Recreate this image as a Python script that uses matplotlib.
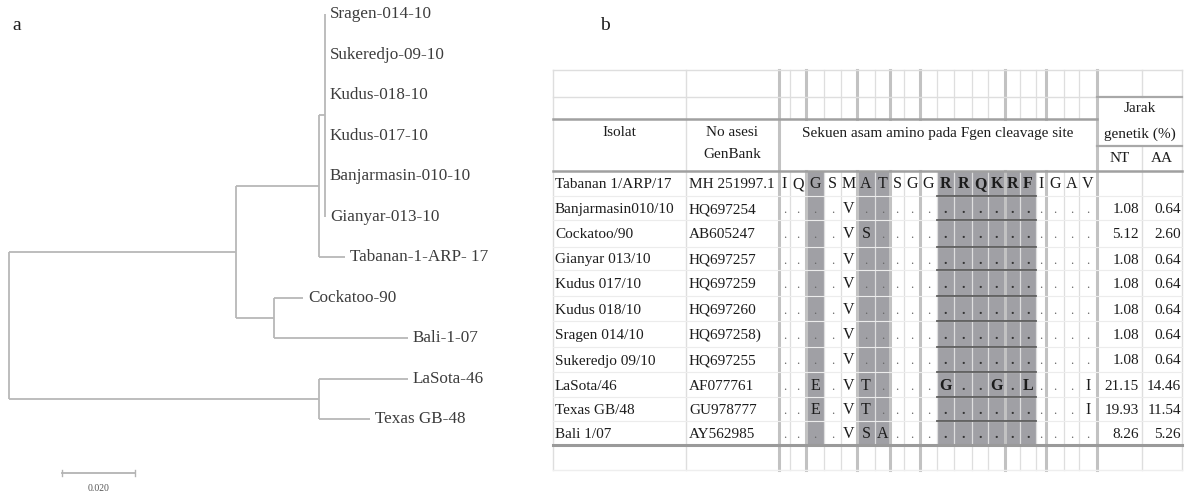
import matplotlib

matplotlib.use("Agg")

import matplotlib.pyplot as plt

plt.rcParams["font.family"] = ["Liberation Serif", "DejaVu Serif"]

# ---- panel a: neighbour-joining tree (branch lengths in substitutions/site)
EDGE_PARENT = ["root", "root", "A", "A", "B", "B", "C", "C", "C", "C", "C", "C",
               "D", "D", "E", "E"]
EDGE_CHILD = ["A", "E", "B", "D", "C", "Tabanan-1-ARP- 17",
              "Sragen-014-10", "Sukeredjo-09-10", "Kudus-018-10", "Kudus-017-10",
              "Banjarmasin-010-10", "Gianyar-013-10",
              "Cockatoo-90", "Bali-1-07", "LaSota-46", "Texas GB-48"]
EDGE_LENGTH = [0.0622, 0.0849, 0.0227, 0.0104, 0.0016, 0.0071,
               0.0, 0.0, 0.0, 0.0, 0.0, 0.0,
               0.0079, 0.0367, 0.0244, 0.0140]
LEAF_ORDER = ["Sragen-014-10", "Sukeredjo-09-10", "Kudus-018-10", "Kudus-017-10",
              "Banjarmasin-010-10", "Gianyar-013-10", "Tabanan-1-ARP- 17",
              "Cockatoo-90", "Bali-1-07", "LaSota-46", "Texas GB-48"]
SCALE_BAR = 0.020

# ---- panel b: table
ISOLATES = ["Tabanan 1/ARP/17", "Banjarmasin010/10", "Cockatoo/90", "Gianyar 013/10",
            "Kudus 017/10", "Kudus 018/10", "Sragen 014/10", "Sukeredjo 09/10",
            "LaSota/46", "Texas GB/48", "Bali 1/07"]
ACCESSIONS = ["MH 251997.1", "HQ697254", "AB605247", "HQ697257", "HQ697259",
              "HQ697260", "HQ697258)", "HQ697255", "AF077761", "GU978777", "AY562985"]
SEQUENCES = ["IQGSMATSGGRRQKRFIGAV",
             "....V...............",
             "....VS..............",
             "....V...............",
             "....V...............",
             "....V...............",
             "....V...............",
             "....V...............",
             "..E.VT....G..G.L...I",
             "..E.VT.............I",
             "....VSA............."]
NT = ["", "1.08", "5.12", "1.08", "1.08", "1.08", "1.08", "1.08", "21.15", "19.93", "8.26"]
AA = ["", "0.64", "2.60", "0.64", "0.64", "0.64", "0.64", "0.64", "14.46", "11.54", "5.26"]
SHADED_COLS = [2, 5, 6, 10, 11, 12, 13, 14, 15]
CLEAVAGE_COLS = [10, 11, 12, 13, 14, 15]

# layout (pixels of the 1189x495 canvas)
W, H = 1189, 495
TAB_LEFT, TAB_RIGHT = 553, 1182
COL_ACC, COL_JARAK, COL_AA = 686, 1097, 1142
SEQ_EDGES = [779, 790, 806, 824, 841, 857, 875, 890, 904, 920, 937, 954, 972,
             988, 1005, 1020, 1036, 1046, 1064, 1079, 1097]
THICK_EDGES = [779, 806, 857, 890, 920, 1005, 1046, 1097]
ROW_EDGES = [171, 196, 220, 247, 270, 296, 321, 347, 372, 397, 421, 445]
TOP, TOP2, HEAD, JARAK_MID, BOTTOM = 70, 97, 119, 146, 470

TEXT = "#1c1c1c"
GRID_LIGHT = "#dedede"
GRID_THICK = "#c2c2c2"
SHADE = "#a0a0a5"

fig = plt.figure(figsize=(W / 100, H / 100), dpi=100)

# ------------------------------------------------------------------ tree
px_per_unit = 3650.0
ax_t = fig.add_axes([0, 0, 547 / W, 1])
ax_t.set_xlim(-9 / px_per_unit, (547 - 9) / px_per_unit)
ax_t.set_ylim((H - 14) / 40.5, -14 / 40.5)
ax_t.axis("off")

xpos = {"root": 0.0}
children = {}
for p, c, L in zip(EDGE_PARENT, EDGE_CHILD, EDGE_LENGTH):
    children.setdefault(p, []).append(c)
for p, c, L in zip(EDGE_PARENT, EDGE_CHILD, EDGE_LENGTH):
    xpos[c] = xpos[p] + L

ypos = {name: i for i, name in enumerate(LEAF_ORDER)}


def node_y(n):
    if n in ypos:
        return ypos[n]
    ys = [node_y(c) for c in children[n]]
    ypos[n] = (min(ys) + max(ys)) / 2
    return ypos[n]


node_y("root")
tree_kw = dict(color="#b8b8b8", linewidth=1.3, solid_capstyle="butt")
for n, kids in children.items():
    ys = [ypos[c] for c in kids]
    ax_t.plot([xpos[n], xpos[n]], [min(ys), max(ys)], **tree_kw)
    for c in kids:
        ax_t.plot([xpos[n], xpos[c]], [ypos[c], ypos[c]], **tree_kw)

for leaf in LEAF_ORDER:
    ax_t.text(xpos[leaf] + 0.0014, ypos[leaf], leaf, fontsize=12.3, color="#3c3c3c",
              va="center", ha="left")

# scale bar
sb_x0 = 53 / px_per_unit
sb_y = (473 - 14) / 40.5
ax_t.plot([sb_x0, sb_x0 + SCALE_BAR], [sb_y, sb_y], color="#b3b3b3", linewidth=1.3)
for xx in (sb_x0, sb_x0 + SCALE_BAR):
    ax_t.plot([xx, xx], [sb_y - 0.07, sb_y + 0.07], color="#b3b3b3", linewidth=1.0)
ax_t.text(sb_x0 + SCALE_BAR / 2, sb_y + 0.38, f"{SCALE_BAR:.3f}", fontsize=7,
          color="#555555", ha="center", va="center")

# ------------------------------------------------------------------ table
ax = fig.add_axes([0, 0, 1, 1])
ax.set_xlim(0, W)
ax.set_ylim(H, 0)
ax.axis("off")

fig.text(12 / W, 1 - 25 / H, "a", fontsize=14, color=TEXT, va="center")
fig.text(600 / W, 1 - 25 / H, "b", fontsize=14, color=TEXT, va="center")

# shading
data_top, data_bot = ROW_EDGES[0], ROW_EDGES[-1]
for c in SHADED_COLS:
    ax.fill_between([SEQ_EDGES[c], SEQ_EDGES[c + 1]], data_top, data_bot,
                    color=SHADE, linewidth=0, zorder=1)

# vertical grid
for x in (TAB_LEFT, COL_ACC, TAB_RIGHT):
    ax.plot([x, x], [TOP, BOTTOM], color=GRID_LIGHT, linewidth=1.0, zorder=2)
ax.plot([COL_AA, COL_AA], [TOP, TOP2], color=GRID_LIGHT, linewidth=1.0, zorder=2)
ax.plot([COL_AA, COL_AA], [JARAK_MID, BOTTOM], color=GRID_LIGHT, linewidth=1.0, zorder=2)
for x in SEQ_EDGES:
    thick = x in THICK_EDGES
    kw = dict(color=GRID_THICK if thick else GRID_LIGHT,
              linewidth=2.2 if thick else 0.9, zorder=2)
    if x in (SEQ_EDGES[0], SEQ_EDGES[-1]):
        ax.plot([x, x], [TOP, BOTTOM], **kw)
    else:
        ax.plot([x, x], [TOP, HEAD], **kw)
        ax.plot([x, x], [data_top, BOTTOM], **kw)

# horizontal grid
ax.plot([TAB_LEFT, TAB_RIGHT], [TOP, TOP], color=GRID_LIGHT, linewidth=1.0, zorder=2)
ax.plot([TAB_LEFT, COL_JARAK], [TOP2, TOP2], color=GRID_LIGHT, linewidth=1.0, zorder=2)
ax.plot([COL_JARAK, TAB_RIGHT], [TOP2, TOP2], color="#a8a8a8", linewidth=1.6, zorder=2)
ax.plot([TAB_LEFT, COL_JARAK], [HEAD, HEAD], color="#a0a0a0", linewidth=1.8, zorder=2)
ax.plot([COL_JARAK, TAB_RIGHT], [JARAK_MID, JARAK_MID], color="#a8a8a8", linewidth=1.6, zorder=2)
ax.plot([TAB_LEFT, TAB_RIGHT], [data_top, data_top], color="#a0a0a0", linewidth=1.8, zorder=2)
for y in ROW_EDGES[1:-1]:
    ax.plot([TAB_LEFT, TAB_RIGHT], [y, y], color="#ececec", linewidth=0.8, zorder=2)
    ax.plot([SEQ_EDGES[CLEAVAGE_COLS[0]], SEQ_EDGES[CLEAVAGE_COLS[-1] + 1]], [y, y],
            color="#5c5c5c", linewidth=1.3, zorder=3)
ax.plot([TAB_LEFT, TAB_RIGHT], [data_bot, data_bot], color="#9a9a9a", linewidth=2.2, zorder=3)
ax.plot([TAB_LEFT, TAB_RIGHT], [BOTTOM, BOTTOM], color="#eeeeee", linewidth=1.0, zorder=2)

# header text
hkw = dict(fontsize=11, color=TEXT, ha="center", va="center")
ax.text((TAB_LEFT + COL_ACC) / 2, 133, "Isolat", **hkw)
ax.text((COL_ACC + SEQ_EDGES[0]) / 2, 133, "No asesi", **hkw)
ax.text((COL_ACC + SEQ_EDGES[0]) / 2, 155, "GenBank", **hkw)
ax.text((SEQ_EDGES[0] + COL_JARAK) / 2, 133,
        "Sekuen asam amino pada Fgen cleavage site", **hkw)
ax.text((COL_JARAK + TAB_RIGHT) / 2, 109, "Jarak", **hkw)
ax.text((COL_JARAK + TAB_RIGHT) / 2, 134, "genetik (%)", **hkw)
ax.text((COL_JARAK + COL_AA) / 2, 159, "NT", **hkw)
ax.text((COL_AA + TAB_RIGHT) / 2, 159, "AA", **hkw)

# body
for r in range(len(ISOLATES)):
    yb = (ROW_EDGES[r] + ROW_EDGES[r + 1]) / 2 + 5
    ax.text(TAB_LEFT + 2, yb, ISOLATES[r], fontsize=11, color=TEXT, va="baseline", zorder=4)
    ax.text(COL_ACC + 3, yb, ACCESSIONS[r], fontsize=11, color=TEXT, va="baseline", zorder=4)
    ax.text(COL_AA - 3, yb, NT[r], fontsize=11, color=TEXT, va="baseline", ha="right", zorder=4)
    ax.text(TAB_RIGHT - 1, yb, AA[r], fontsize=11, color=TEXT, va="baseline", ha="right", zorder=4)
    for c, ch in enumerate(SEQUENCES[r]):
        xc = (SEQ_EDGES[c] + SEQ_EDGES[c + 1]) / 2
        in_site = c in CLEAVAGE_COLS
        if ch == ".":
            ax.text(xc, yb, ".", fontsize=9 if not in_site else 10,
                    color="#666666" if not in_site else "#333333",
                    fontweight="bold" if in_site else "normal",
                    ha="center", va="baseline", zorder=4)
        else:
            ax.text(xc, yb, ch, fontsize=11.5, color=TEXT,
                    fontweight="bold" if in_site else "normal",
                    ha="center", va="baseline", zorder=4)

fig.savefig("out.png", dpi=100)
